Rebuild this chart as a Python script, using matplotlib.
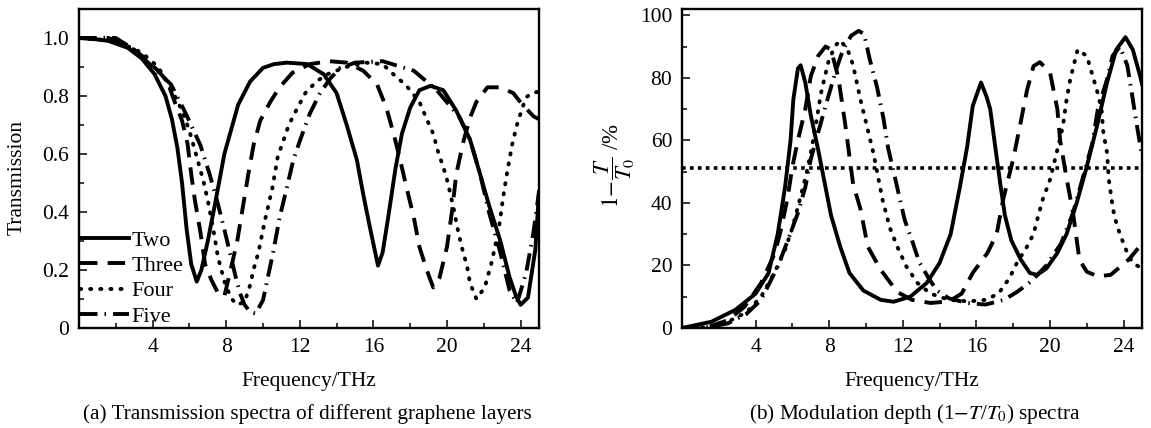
import matplotlib
matplotlib.use("Agg")
import matplotlib.pyplot as plt
from matplotlib.ticker import MultipleLocator, FixedLocator, FixedFormatter

plt.rcParams['font.family'] = ['Liberation Serif', 'DejaVu Serif']
plt.rcParams['mathtext.fontset'] = 'stix'

# ---- (a) transmission ----
f_two = [0, 1, 1.6, 2.65, 3.4, 4.1, 4.7, 5.05, 5.35, 5.6, 5.85, 6.1, 6.4, 6.65, 7.0, 7.4, 7.9, 8.65, 9.3, 10.0,
         10.6, 11.3, 12.4, 13.3, 14.0, 14.55, 15.1, 15.45, 15.8, 16.1, 16.25, 16.5, 16.8, 17.2, 17.55, 18.0, 18.5,
         19.1, 19.8, 20.5, 21.25, 21.8, 22.3, 22.9, 23.4, 23.75, 24.0, 24.4, 24.8, 25.0]
t_two = [1.0, 0.995, 0.99, 0.966, 0.93, 0.876, 0.80, 0.72, 0.62, 0.50, 0.34, 0.22, 0.16, 0.20, 0.30, 0.43, 0.60,
         0.77, 0.85, 0.897, 0.91, 0.915, 0.91, 0.875, 0.81, 0.70, 0.58, 0.46, 0.35, 0.26, 0.215, 0.26, 0.38, 0.55,
         0.67, 0.76, 0.82, 0.835, 0.82, 0.75, 0.65, 0.53, 0.42, 0.30, 0.175, 0.11, 0.08, 0.105, 0.27, 0.47]

f_three = [0, 1.6, 2.5, 3.4, 4.3, 4.8, 5.2, 5.6, 5.9, 6.1, 6.3, 6.6, 6.85, 7.2, 7.6, 7.9, 8.2, 8.6, 8.9, 9.2, 9.5,
           9.85, 10.4, 10.9, 11.6, 12.55, 13.6, 14.55, 15.45, 16.2, 16.7, 17.1, 17.45, 17.8, 18.2, 18.5, 18.9, 19.25,
           19.6, 20.0, 20.3, 20.5, 20.9, 21.25, 21.6, 22.2, 22.9, 23.6, 24.1, 24.7, 25]
t_three = [1.0, 1.0, 0.98, 0.94, 0.887, 0.85, 0.78, 0.715, 0.635, 0.53, 0.44, 0.33, 0.22, 0.165, 0.115, 0.11, 0.19,
           0.30, 0.415, 0.53, 0.635, 0.715, 0.78, 0.83, 0.88, 0.91, 0.92, 0.915, 0.887, 0.84, 0.76, 0.67, 0.58,
           0.485, 0.38, 0.28, 0.20, 0.14, 0.175, 0.28, 0.415, 0.53, 0.645, 0.725, 0.78, 0.83, 0.83, 0.81, 0.77,
           0.73, 0.72]

f_four = [0, 2, 3.4, 4.3, 5.05, 5.6, 6.0, 6.4, 6.75, 7.0, 7.3, 7.55, 7.95, 8.3, 8.6, 9.0, 9.3, 9.5, 9.75, 10.1,
          10.5, 10.8, 11.4, 11.8, 12.3, 12.9, 13.5, 14.5, 15.6, 16.5, 17.0, 17.8, 18.5, 18.9, 19.25, 19.5, 19.8,
          20.05, 20.35, 20.6, 20.8, 21.1, 21.25, 21.6, 22.05, 22.4, 22.8, 23.05, 23.25, 23.55, 23.8, 24.1, 24.3,
          24.6, 25]
t_four = [1.0, 0.99, 0.95, 0.90, 0.82, 0.75, 0.68, 0.59, 0.51, 0.44, 0.34, 0.245, 0.15, 0.10, 0.08, 0.09, 0.148,
          0.205, 0.26, 0.37, 0.48, 0.59, 0.70, 0.75, 0.81, 0.85, 0.875, 0.90, 0.915, 0.91, 0.88, 0.835, 0.78, 0.72,
          0.67, 0.61, 0.555, 0.50, 0.415, 0.335, 0.28, 0.21, 0.155, 0.10, 0.14, 0.22, 0.335, 0.45, 0.53, 0.635,
          0.70, 0.76, 0.795, 0.81, 0.815]

f_five = [0, 2, 3, 4, 5.0, 5.8, 6.6, 7.1, 7.5, 7.9, 8.2, 8.5, 8.75, 9.0, 9.3, 9.6, 10.0, 10.55, 10.9, 11.3, 11.65,
          12.0, 12.55, 13.1, 13.65, 14.2, 15.0, 16.5, 18.2, 19.45, 20.7, 21.25, 21.8, 22.3, 22.9, 23.4, 23.8, 24.3,
          24.7, 25]
t_five = [1.0, 1.0, 0.96, 0.90, 0.84, 0.74, 0.63, 0.53, 0.44, 0.34, 0.26, 0.18, 0.12, 0.08, 0.055, 0.05, 0.096,
          0.26, 0.38, 0.485, 0.58, 0.645, 0.74, 0.81, 0.86, 0.897, 0.915, 0.92, 0.887, 0.82, 0.725, 0.65, 0.53,
          0.395, 0.26, 0.13, 0.085, 0.19, 0.33, 0.47]

# ---- (b) modulation depth in % ----
g_two = [0, 1.6, 2.9, 4.0, 4.7, 5.2, 5.6, 5.9, 6.05, 6.3, 6.45, 6.7, 7.0, 7.4, 7.8, 8.1, 8.6, 9.1, 9.85, 10.8,
         11.5, 12.4, 13.3, 14.0, 14.6, 15.1, 15.5, 15.8, 16.25, 16.55, 16.75, 17.0, 17.3, 17.55, 17.9, 18.4, 18.9,
         19.3, 19.8, 20.4, 20.9, 21.45, 22.0, 22.55, 23.1, 23.6, 24.1, 24.5, 24.9, 25]
d_two = [0, 2, 5.8, 11, 17.5, 30, 45, 60, 73, 83, 84, 78.5, 68, 57, 45, 36, 26, 17.6, 12, 9, 8.4, 10, 14.4, 20.8,
         30, 45, 58, 71, 78.5, 74, 70, 59, 46, 36, 28, 22, 17.6, 17, 19, 24, 30, 40, 51.6, 64.5, 78.5, 89, 93, 89,
         80.5, 78]

g_three = [0, 1.5, 2.5, 3.4, 4.3, 5.05, 5.4, 5.75, 6.0, 6.3, 6.7, 7.0, 7.4, 7.8, 8.1, 8.5, 8.86, 9.3, 9.7, 10.1,
           10.8, 11.7, 12.5, 13.5, 14.5, 15.2, 15.8, 16.6, 17.1, 17.45, 18.0, 18.4, 18.75, 19.1, 19.45, 20.0, 20.4,
           20.55, 20.9, 21.25, 21.6, 22.0, 22.6, 23.3, 24.3, 25]
d_three = [0, 0.5, 2.5, 6.8, 14.4, 24, 32, 42, 51.6, 60, 70, 80.5, 87, 90, 89, 80, 65.6, 46, 38, 26, 18.6, 11.5, 9,
           8, 8.5, 11, 17.6, 24, 30, 41, 54, 65.6, 76, 83.7, 85, 81.7, 70, 60, 48, 36.8, 21.8, 18, 16.5, 17, 22, 27]

g_four = [0, 1.5, 2.5, 3.5, 4.3, 5.05, 5.6, 6.0, 6.4, 6.75, 7.0, 7.3, 7.55, 7.95, 8.3, 8.6, 9.0, 9.3, 9.7, 10.05,
          10.4, 10.7, 10.9, 11.3, 11.7, 12.2, 12.8, 13.5, 14.5, 15.6, 16.5, 17.2, 17.8, 18.2, 18.75, 19.1, 19.35,
          19.6, 20.0, 20.4, 20.7, 20.9, 21.1, 21.5, 22.0, 22.55, 22.8, 22.9, 23.1, 23.2, 23.35, 23.5, 23.8, 24.2,
          24.5, 25]
d_four = [0, 0.3, 2, 5, 10, 18, 25, 32, 41, 49, 56, 66, 75, 85, 90, 92, 89, 84, 73, 64.5, 56, 47, 41, 32, 26, 19.6,
          14.4, 11, 9, 8.5, 9, 11, 16, 20.8, 26, 30, 35.6, 41, 47.4, 57, 64.5, 73, 79.5, 89, 87, 76, 70, 62.5, 56,
          47.4, 41, 35.6, 30, 24, 20.8, 19]

g_five = [0, 1.5, 2.5, 3.5, 4.3, 5.2, 5.75, 6.3, 6.7, 7.0, 7.4, 7.8, 8.1, 8.4, 8.75, 9.2, 9.6, 9.9, 10.2, 10.6,
          10.95, 11.2, 11.75, 12.1, 12.5, 12.9, 13.4, 13.85, 14.5, 15.5, 16.5, 17.5, 18.2, 19.0, 19.8, 20.6, 21.25,
          21.8, 22.3, 22.6, 23.1, 23.4, 23.8, 24.2, 24.45, 24.7, 25]
d_five = [0, 0.3, 1.5, 4.5, 9, 19.6, 28, 36.8, 45, 54, 62.5, 71, 77, 83, 89, 93.5, 95, 94, 86, 77, 67, 57.6, 43.6,
          34.6, 28, 21, 16, 12, 9.5, 8, 7.5, 9, 11.5, 15, 20, 27, 36.8, 48.4, 59, 70, 79.5, 87, 90, 84, 75, 65.6, 55]

half_level = 51

labels = ['Two', 'Three', 'Four', 'Five']
styles = ['-', (0, (4.5, 2.6)), (0, (0.3, 2.3)), (0, (4.5, 1.8, 0.4, 1.8))]

fig = plt.figure(figsize=(11.51, 4.28), dpi=100)
W, H = 1151, 428
ax1 = fig.add_axes([79 / W, 1 - 328 / H, 460 / W, 319 / H])
ax2 = fig.add_axes([682 / W, 1 - 328 / H, 460 / W, 319 / H])

lw = 2.8
for f, t, lab, ls in zip([f_two, f_three, f_four, f_five], [t_two, t_three, t_four, t_five], labels, styles):
    ax1.plot(f, t, color='black', lw=lw, ls=ls, label=lab,
             dash_capstyle='round' if lab == 'Four' else 'butt', solid_joinstyle='round')

for g, d, ls, lab in zip([g_two, g_three, g_four, g_five], [d_two, d_three, d_four, d_five], styles, labels):
    ax2.plot(g, d, color='black', lw=lw, ls=ls,
             dash_capstyle='round' if lab == 'Four' else 'butt', solid_joinstyle='round')
ax2.axhline(half_level, color='black', lw=2.6, ls=(0, (1, 1.2)))

for ax in (ax1, ax2):
    ax.set_xlim(0, 25)
    ax.xaxis.set_major_locator(FixedLocator([4, 8, 12, 16, 20, 24]))
    ax.xaxis.set_minor_locator(FixedLocator([2, 6, 10, 14, 18, 22]))
    ax.tick_params(which='both', direction='in', top=False, right=False, labelsize=15.5, width=1.1, pad=7)
    ax.tick_params(which='major', length=5.5)
    ax.tick_params(which='minor', length=3.5)
    for s in ax.spines.values():
        s.set_linewidth(1.7)
    ax.set_xlabel('Frequency/THz', fontsize=15.5, va='center')
    ax.xaxis.set_label_coords(0.5, -0.169)

ax1.set_ylim(0, 1.1)
ax1.yaxis.set_major_locator(FixedLocator([0, 0.2, 0.4, 0.6, 0.8, 1.0]))
ax1.yaxis.set_major_formatter(FixedFormatter(['0', '0.2', '0.4', '0.6', '0.8', '1.0']))
ax1.yaxis.set_minor_locator(MultipleLocator(0.1))
ax1.set_ylabel('Transmission', fontsize=15.5, va='center')
ax1.yaxis.set_label_coords(-0.134, 0.473)

ax2.set_ylim(0, 102)
ax2.yaxis.set_major_locator(MultipleLocator(20))
ax2.yaxis.set_minor_locator(MultipleLocator(10))
ax2.set_ylabel(r'$1\!-\!\dfrac{T}{T_0}$ /%', fontsize=16.5, va='center')
ax2.yaxis.set_label_coords(-0.146, 0.511)

ax1.legend(loc='lower left', bbox_to_anchor=(0, 0.0), frameon=False, fontsize=16,
           handlelength=2.2, handletextpad=0.1, labelspacing=0.22, borderpad=0.05, borderaxespad=0)

fig.text(307 / W, 1 - 414 / H, '(a) Transmission spectra of different graphene layers', fontsize=15.3,
         ha='center', va='center')
fig.text(915 / W, 1 - 414 / H, r'(b) Modulation depth (1$-$$T$/$T_0$) spectra', fontsize=15.3,
         ha='center', va='center')

fig.savefig('out.png', dpi=100)
